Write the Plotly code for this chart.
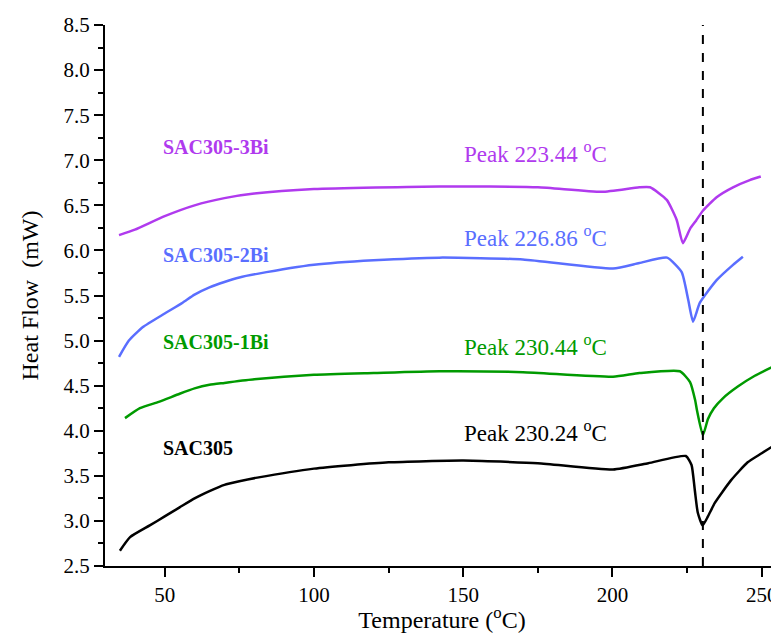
import plotly.graph_objects as go

# ---- data ----
x_sac305 = [35, 38.4, 45, 50, 55, 60, 65, 70, 75, 81, 100, 125, 150, 175, 200.2, 212, 224.6, 226.5, 227.6, 228.6, 230.2, 232, 234.3, 239.7, 245.3, 250, 253.8]
y_sac305 = [2.67, 2.82, 2.95, 3.05, 3.15, 3.25, 3.33, 3.40, 3.44, 3.48, 3.58, 3.65, 3.67, 3.64, 3.57, 3.64, 3.72, 3.62, 3.34, 3.09, 2.95, 3.05, 3.20, 3.45, 3.65, 3.75, 3.83]

x_1bi = [36.7, 41.7, 48, 55, 60, 65, 70, 80, 100, 120, 142, 170, 200.2, 209, 222.6, 226, 227.7, 228.3, 230.3, 232, 234, 237, 242, 247.7, 253.8]
y_1bi = [4.14, 4.25, 4.32, 4.41, 4.47, 4.51, 4.53, 4.57, 4.62, 4.64, 4.66, 4.65, 4.60, 4.64, 4.66, 4.54, 4.34, 4.23, 3.95, 4.13, 4.25, 4.36, 4.49, 4.61, 4.71]

x_2bi = [34.7, 38, 42.7, 50, 56, 60, 65, 70, 75, 81, 100, 120, 142, 170, 200.2, 209, 218.3, 223.2, 225.4, 227, 229.3, 234.9, 240.4, 243.7]
y_2bi = [4.82, 5.00, 5.15, 5.30, 5.42, 5.51, 5.59, 5.65, 5.70, 5.74, 5.84, 5.89, 5.92, 5.90, 5.80, 5.86, 5.92, 5.76, 5.45, 5.21, 5.42, 5.67, 5.84, 5.93]

x_3bi = [34.7, 40, 50, 60, 70, 80, 100, 142, 175, 196.5, 209, 212.6, 218.2, 221.5, 223.6, 226, 228, 230.3, 234.9, 240.4, 246, 249.7]
y_3bi = [6.17, 6.23, 6.38, 6.50, 6.58, 6.63, 6.68, 6.71, 6.70, 6.65, 6.70, 6.70, 6.56, 6.34, 6.08, 6.24, 6.33, 6.44, 6.59, 6.70, 6.78, 6.82]

series_names = ["SAC305", "SAC305-1Bi", "SAC305-2Bi", "SAC305-3Bi"]
series_colors = ["#000000", "#009A00", "#5A6EFF", "#B03AEE"]
peak_labels = ["Peak 230.24 <sup>o</sup>C", "Peak 230.44 <sup>o</sup>C",
               "Peak 226.86 <sup>o</sup>C", "Peak 223.44 <sup>o</sup>C"]
name_label_y = [3.81, 4.98, 5.95, 7.15]
peak_label_y = [3.99, 4.95, 6.15, 7.09]
name_label_x = 48.8
peak_label_x = 149.6
ref_line_x = 230.3

xs = [x_sac305, x_1bi, x_2bi, x_3bi]
ys = [y_sac305, y_1bi, y_2bi, y_3bi]

FONT = "Liberation Serif"

fig = go.Figure()
for xv, yv, nm, col in zip(xs, ys, series_names, series_colors):
    fig.add_trace(go.Scatter(x=xv, y=yv, mode="lines", name=nm,
                             line=dict(color=col, width=2.5, shape="spline", smoothing=0.5),
                             showlegend=False))

for nm, col, ly in zip(series_names, series_colors, name_label_y):
    fig.add_annotation(x=name_label_x, y=ly, text="<b>" + nm + "</b>", showarrow=False,
                       xanchor="left", yanchor="middle",
                       font=dict(family=FONT, size=20, color=col))
for pl, col, py in zip(peak_labels, series_colors, peak_label_y):
    fig.add_annotation(x=peak_label_x, y=py, text=pl, showarrow=False,
                       xanchor="left", yanchor="middle",
                       font=dict(family=FONT, size=23, color=col))

fig.add_shape(type="line", xref="x", yref="paper", x0=ref_line_x, x1=ref_line_x, y0=0, y1=1,
              line=dict(color="black", width=2, dash="dash"))

# page body has an 8px margin on every side, so the figure is 16px smaller than the window
fig.update_layout(
    width=771, height=625,
    margin=dict(l=97, r=0, t=17, b=67),
    plot_bgcolor="white", paper_bgcolor="white",
    font=dict(family=FONT, color="black"),
)
fig.update_xaxes(range=[30, 255.8], tickvals=[50, 100, 150, 200, 250],
                 ticks="outside", ticklen=9, tickwidth=2, tickcolor="black",
                 showline=True, linecolor="black", linewidth=2, showgrid=False, zeroline=False,
                 minor=dict(tickvals=[75, 125, 175, 225], ticks="outside", ticklen=5, tickwidth=2, tickcolor="black"),
                 tickfont=dict(family=FONT, size=21),
                 title=dict(text="Temperature (<sup>o</sup>C)", font=dict(family=FONT, size=24), standoff=9))
fig.update_yaxes(range=[2.5, 8.5], tickvals=[2.5, 3.0, 3.5, 4.0, 4.5, 5.0, 5.5, 6.0, 6.5, 7.0, 7.5, 8.0, 8.5],
                 ticktext=["2.5", "3.0", "3.5", "4.0", "4.5", "5.0", "5.5", "6.0", "6.5", "7.0", "7.5", "8.0", "8.5"],
                 ticks="outside", ticklen=9, tickwidth=2, tickcolor="black",
                 showline=True, linecolor="black", linewidth=2, showgrid=False, zeroline=False,
                 minor=dict(tickvals=[2.75, 3.25, 3.75, 4.25, 4.75, 5.25, 5.75, 6.25, 6.75, 7.25, 7.75, 8.25],
                            ticks="outside", ticklen=5, tickwidth=2, tickcolor="black"),
                 tickfont=dict(family=FONT, size=21),
                 title=dict(text="Heat Flow  (mW)", font=dict(family=FONT, size=24), standoff=18))

fig.write_html("out.html")
